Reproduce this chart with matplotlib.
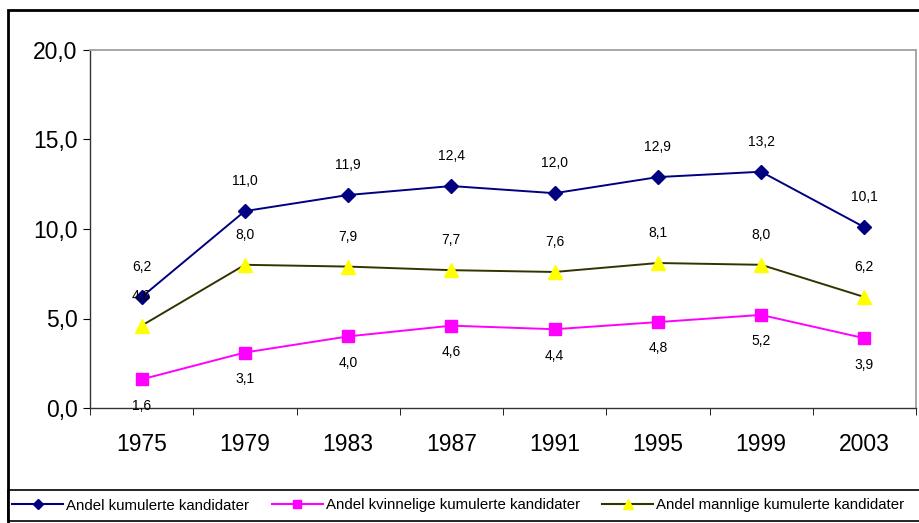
import numpy as np
import matplotlib.pyplot as plt
from matplotlib.patches import Rectangle
from matplotlib.lines import Line2D

plt.rcParams['font.family'] = ['Liberation Sans', 'DejaVu Sans']

# DATA
aar = ['1975', '1979', '1983', '1987', '1991', '1995', '1999', '2003']
andel_total = [6.2, 11.0, 11.9, 12.4, 12.0, 12.9, 13.2, 10.1]
andel_kvinner = [1.6, 3.1, 4.0, 4.6, 4.4, 4.8, 5.2, 3.9]
andel_menn = [4.6, 8.0, 7.9, 7.7, 7.6, 8.1, 8.0, 6.2]

navn = ['Andel kumulerte kandidater',
        'Andel kvinnelige kumulerte kandidater',
        'Andel mannlige kumulerte kandidater']

fig = plt.figure(figsize=(9.19, 5.23), dpi=100)
ax = fig.add_axes([90 / 919, 1 - 408 / 523, 826 / 919, 358 / 523])

x = np.arange(len(aar))

ax.plot(x, andel_total, color='#000080', marker='D', markersize=7, linewidth=1.4, zorder=3)
ax.plot(x, andel_kvinner, color='#FF00FF', marker='s', markersize=8, linewidth=1.4, zorder=3)
ax.plot(x, andel_menn, color='#333300', marker='^', markersize=10, linewidth=1.4,
        markerfacecolor='#FFFF00', markeredgecolor='#FFFF00', zorder=3)

def fmt(v):
    return f'{v:.1f}'.replace('.', ',')

# DATAETIKETTER
for i in x:
    ax.annotate(fmt(andel_total[i]), (i, andel_total[i]), xytext=(0, 21.5),
                textcoords='offset points', ha='center', va='center', fontsize=10)
    ax.annotate(fmt(andel_menn[i]), (i, andel_menn[i]), xytext=(0, 21.5),
                textcoords='offset points', ha='center', va='center', fontsize=10)
    ax.annotate(fmt(andel_kvinner[i]), (i, andel_kvinner[i]), xytext=(0, -19),
                textcoords='offset points', ha='center', va='center', fontsize=10)

ax.set_xlim(-0.5, len(aar) - 0.5)
ax.set_ylim(0, 20)
ax.set_yticks([0, 5, 10, 15, 20])
ax.set_yticklabels([fmt(v) for v in [0, 5, 10, 15, 20]], fontsize=16.5)
ax.set_xticks(x)
ax.set_xticklabels(aar, fontsize=16.5)
ax.set_xticks(np.arange(-0.5, len(aar)), minor=True)
ax.tick_params(axis='x', which='major', length=0, pad=18)
ax.tick_params(axis='x', which='minor', length=5, direction='out', color='black')
ax.tick_params(axis='y', length=5, direction='out', color='black', pad=4)

for s in ['top', 'right']:
    ax.spines[s].set_color('#a0a0a0')
    ax.spines[s].set_linewidth(1.3)
for s in ['left', 'bottom']:
    ax.spines[s].set_color('#333333')
    ax.spines[s].set_linewidth(1.0)

# YTRE RAMME OG LEGENDE-BOKS
fig.add_artist(Rectangle((8 / 919, -0.01), 1.0, 1 - 10 / 523 + 0.01, transform=fig.transFigure,
                         fill=False, edgecolor='black', linewidth=2))
fig.add_artist(Rectangle((8 / 919, 2 / 523), 1.0, 31 / 523, transform=fig.transFigure,
                         fill=False, edgecolor='black', linewidth=1.2))

handles = [
    Line2D([], [], color='#000080', marker='D', markersize=5),
    Line2D([], [], color='#FF00FF', marker='s', markersize=6),
    Line2D([], [], color='#333300', marker='^', markersize=7,
           markerfacecolor='#FFFF00', markeredgecolor='#FFFF00'),
]
fig.legend(handles, navn, loc='center left', bbox_to_anchor=(12 / 919, 17.5 / 523), ncol=3,
           frameon=False, handlelength=3.4, handletextpad=0.2, columnspacing=1.5,
           borderpad=0, borderaxespad=0, prop={'size': 10.8})

fig.savefig('out.png', dpi=100)
